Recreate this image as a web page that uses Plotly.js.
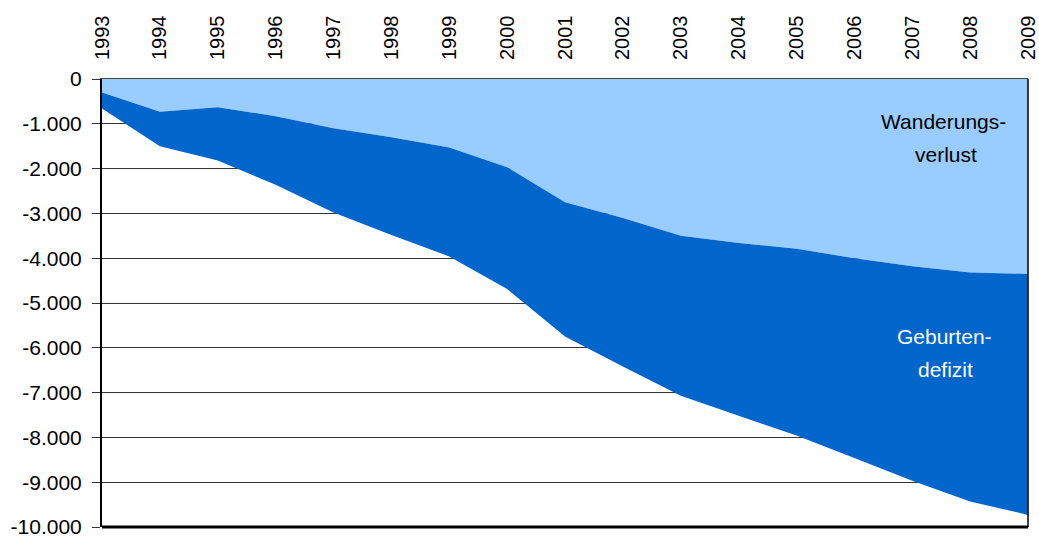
<!DOCTYPE html>
<html>
<head>
<meta charset="utf-8">
<script src="https://cdn.plot.ly/plotly-3.0.1.min.js"></script>
<style>html,body{margin:0;padding:0;background:#fff}#chart{width:1039px;height:539px}</style>
</head>
<body>
<div id="chart"></div>
<script>
var years = [1993,1994,1995,1996,1997,1998,1999,2000,2001,2002,2003,2004,2005,2006,2007,2008,2009];
var wanderungsverlust = [-300,-730,-630,-830,-1100,-1300,-1530,-1970,-2750,-3100,-3500,-3660,-3790,-4000,-4180,-4320,-4350];
var geburtendefizit = [-360,-770,-1190,-1530,-1880,-2180,-2430,-2720,-3000,-3320,-3570,-3860,-4170,-4460,-4790,-5110,-5380];
var yTickVals = [0,-1000,-2000,-3000,-4000,-5000,-6000,-7000,-8000,-9000,-10000];
var yTickText = ["0","-1.000","-2.000","-3.000","-4.000","-5.000","-6.000","-7.000","-8.000","-9.000","-10.000"];
var labelWanderung = ["Wanderungs-","verlust"];
var labelGeburten = ["Geburten-","defizit"];

var font = "'Liberation Sans', Arial, sans-serif";

var traces = [
  {x: years, y: wanderungsverlust, name: "Wanderungsverlust", type: "scatter", mode: "lines",
   stackgroup: "one", line: {width: 0, color: "#99CCFF"}, fillcolor: "#99CCFF", hoverinfo: "skip"},
  {x: years, y: geburtendefizit, name: "Geburtendefizit", type: "scatter", mode: "lines",
   stackgroup: "one", line: {width: 0, color: "#0066CC"}, fillcolor: "#0066CC", hoverinfo: "skip"}
];

var layout = {
  width: 1039, height: 539,
  margin: {l: 102, r: 11, t: 79, b: 12},
  paper_bgcolor: "#fff", plot_bgcolor: "#fff",
  showlegend: false,
  font: {family: font, size: 21, color: "#000"},
  xaxis: {
    side: "top", range: [1993, 2009], tickvals: years, ticktext: years.map(String),
    tickangle: -90, showgrid: false, zeroline: false, ticks: "", ticklen: 0,
    ticklabelstandoff: 14,
    tickfont: {family: font, size: 20, color: "#000"},
    showline: true, linecolor: "#444", linewidth: 1, mirror: false
  },
  yaxis: {
    range: [-10000, 0], tickvals: yTickVals, ticktext: yTickText,
    showgrid: true, gridcolor: "#333", gridwidth: 1, zeroline: false,
    ticks: "outside", ticklen: 8, tickcolor: "#333", tickwidth: 1,
    ticklabelstandoff: 6,
    tickfont: {family: font, size: 21, color: "#000"},
    showline: true, linecolor: "#000", linewidth: 2
  },
  shapes: [
    {type: "line", xref: "paper", yref: "paper", x0: 1, x1: 1, y0: 0, y1: 1, line: {color: "#000", width: 1.5}},
    {type: "line", xref: "paper", yref: "paper", x0: 0, x1: 1, y0: 0, y1: 0, line: {color: "#000", width: 3}}
  ],
  annotations: [
    {xref: "paper", yref: "paper", x: 0.909, y: 0.905, xanchor: "center", yanchor: "middle", text: labelWanderung[0], showarrow: false, font: {family: font, size: 21, color: "#000"}},
    {xref: "paper", yref: "paper", x: 0.911, y: 0.831, xanchor: "center", yanchor: "middle", text: labelWanderung[1], showarrow: false, font: {family: font, size: 21, color: "#000"}},
    {xref: "paper", yref: "paper", x: 0.910, y: 0.426, xanchor: "center", yanchor: "middle", text: labelGeburten[0], showarrow: false, font: {family: font, size: 21, color: "#fff"}},
    {xref: "paper", yref: "paper", x: 0.911, y: 0.352, xanchor: "center", yanchor: "middle", text: labelGeburten[1], showarrow: false, font: {family: font, size: 21, color: "#fff"}}
  ]
};

Plotly.newPlot("chart", traces, layout, {displayModeBar: false, staticPlot: true});
</script>
</body>
</html>
